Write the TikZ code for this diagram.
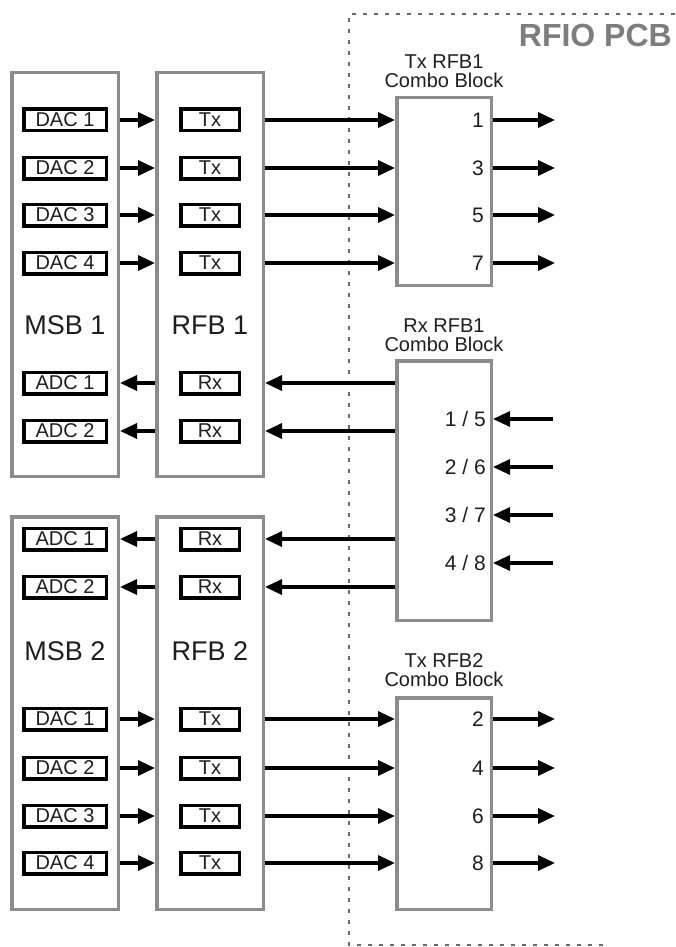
\documentclass[tikz,border=0pt]{standalone}
\usepackage{fontspec}
\setmainfont{Liberation Sans}
\usetikzlibrary{arrows.meta,calc}
\definecolor{boxgray}{RGB}{140,140,140}
\definecolor{txtgray}{RGB}{30,30,30}
\definecolor{pcbgray}{RGB}{125,125,125}
\definecolor{dashgray}{RGB}{105,105,105}
\tikzset{
  bigbox/.style={draw=boxgray,line width=3.5pt,fill=white,inner sep=0pt},
  smallL/.style={draw=black,line width=3.5pt,minimum width=82.5pt,minimum height=21.5pt,inner sep=0pt,font=\fontsize{20}{20}\selectfont,text=txtgray},
  smallR/.style={draw=black,line width=3.5pt,minimum width=58.5pt,minimum height=21.5pt,inner sep=0pt,font=\fontsize{20}{20}\selectfont,text=txtgray},
  biglabel/.style={font=\fontsize{27}{27}\selectfont,text=txtgray,inner sep=0pt},
  combolabel/.style={font=\fontsize{20}{19.5}\selectfont,text=txtgray,align=center,inner sep=0pt},
  portlabel/.style={font=\fontsize{21}{21}\selectfont,text=txtgray,anchor=east,inner sep=0pt},
  sig/.style={line width=3.3pt,-{Triangle[length=17pt,width=15pt]}},
  pcb/.style={draw=dashgray,line width=2.8pt,dash pattern=on 4pt off 7pt}
}
\begin{document}
\begin{tikzpicture}[x=1pt,y=-1pt]
\useasboundingbox (0,0) rectangle (675,947);
% PCB border
\coordinate (pcbTL) at (349,14);
\coordinate (pcbTR) at (675,14);
\coordinate (pcbBL) at (349,945);
\coordinate (pcbBR) at (607,945);
\draw[pcb] (pcbTR) -- (pcbTL) -- (pcbBL) -- (pcbBR);
\node[anchor=east,font=\fontsize{32}{32}\bfseries\selectfont,text=pcbgray,inner sep=0pt] (pcblabel) at (672,35) {RFIO PCB};

% big boxes
\node[bigbox,minimum width=106.5pt,minimum height=403.5pt] (msb1) at (65,274.5) {};
\node[bigbox,minimum width=106.5pt,minimum height=403.5pt] (rfb1) at (210,274.5) {};
\node[bigbox,minimum width=106.5pt,minimum height=392.5pt] (msb2) at (65,713) {};
\node[bigbox,minimum width=106.5pt,minimum height=392.5pt] (rfb2) at (210,713) {};
\node[biglabel] (msb1l) at (65,325) {MSB 1};
\node[biglabel] (rfb1l) at (210,325) {RFB 1};
\node[biglabel] (msb2l) at (65,651) {MSB 2};
\node[biglabel] (rfb2l) at (210,651) {RFB 2};

% combo blocks
\node[bigbox,minimum width=94.5pt,minimum height=187.5pt] (ctx1) at (444,191.5) {};
\node[bigbox,minimum width=94.5pt,minimum height=259.5pt] (crx1) at (444,490.5) {};
\node[bigbox,minimum width=94.5pt,minimum height=211.5pt] (ctx2) at (444,803.5) {};
\node[combolabel] (ctx1l) at (444,71) {Tx RFB1\\Combo Block};
\node[combolabel] (crx1l) at (444,335) {Rx RFB1\\Combo Block};
\node[combolabel] (ctx2l) at (444,670) {Tx RFB2\\Combo Block};

% MSB1 / RFB1 Tx rows
\foreach \i/\y/\p in {1/120/1,2/168/3,3/215/5,4/263/7}{
  \node[smallL] (dacA\i) at (65,\y) {DAC \i};
  \node[smallR] (txA\i) at (210,\y) {Tx};
  \node[portlabel] (pA\i) at (484,\y) {\p};
  \coordinate (oA\i) at (555,\y);
  \draw[sig] (dacA\i -| msb1.east) -- (txA\i -| rfb1.west);
  \draw[sig] (txA\i -| rfb1.east) -- (txA\i -| ctx1.west);
  \draw[sig] (txA\i -| ctx1.east) -- (oA\i);
}
% MSB1 / RFB1 Rx rows
\foreach \i/\y in {1/383,2/431}{
  \node[smallL] (adcA\i) at (65,\y) {ADC \i};
  \node[smallR] (rxA\i) at (210,\y) {Rx};
  \draw[sig] (rxA\i -| rfb1.west) -- (adcA\i -| msb1.east);
  \draw[sig] (rxA\i -| crx1.west) -- (rxA\i -| rfb1.east);
}
% Rx combo inputs
\foreach \i/\y/\p in {1/419/{1 / 5},2/467/{2 / 6},3/515/{3 / 7},4/563/{4 / 8}}{
  \node[portlabel] (pR\i) at (486,\y) {\p};
  \coordinate (iR\i) at (553,\y);
  \draw[sig] (iR\i) -- (iR\i -| crx1.east);
}
% MSB2 / RFB2 Rx rows
\foreach \i/\y in {1/539,2/587}{
  \node[smallL] (adcB\i) at (65,\y) {ADC \i};
  \node[smallR] (rxB\i) at (210,\y) {Rx};
  \draw[sig] (rxB\i -| rfb2.west) -- (adcB\i -| msb2.east);
  \draw[sig] (rxB\i -| crx1.west) -- (rxB\i -| rfb2.east);
}
% MSB2 / RFB2 Tx rows
\foreach \i/\y/\p in {1/719/2,2/768/4,3/816/6,4/863/8}{
  \node[smallL] (dacB\i) at (65,\y) {DAC \i};
  \node[smallR] (txB\i) at (210,\y) {Tx};
  \node[portlabel] (pB\i) at (484,\y) {\p};
  \coordinate (oB\i) at (555,\y);
  \draw[sig] (dacB\i -| msb2.east) -- (txB\i -| rfb2.west);
  \draw[sig] (txB\i -| rfb2.east) -- (txB\i -| ctx2.west);
  \draw[sig] (txB\i -| ctx2.east) -- (oB\i);
}
\end{tikzpicture}
\end{document}
